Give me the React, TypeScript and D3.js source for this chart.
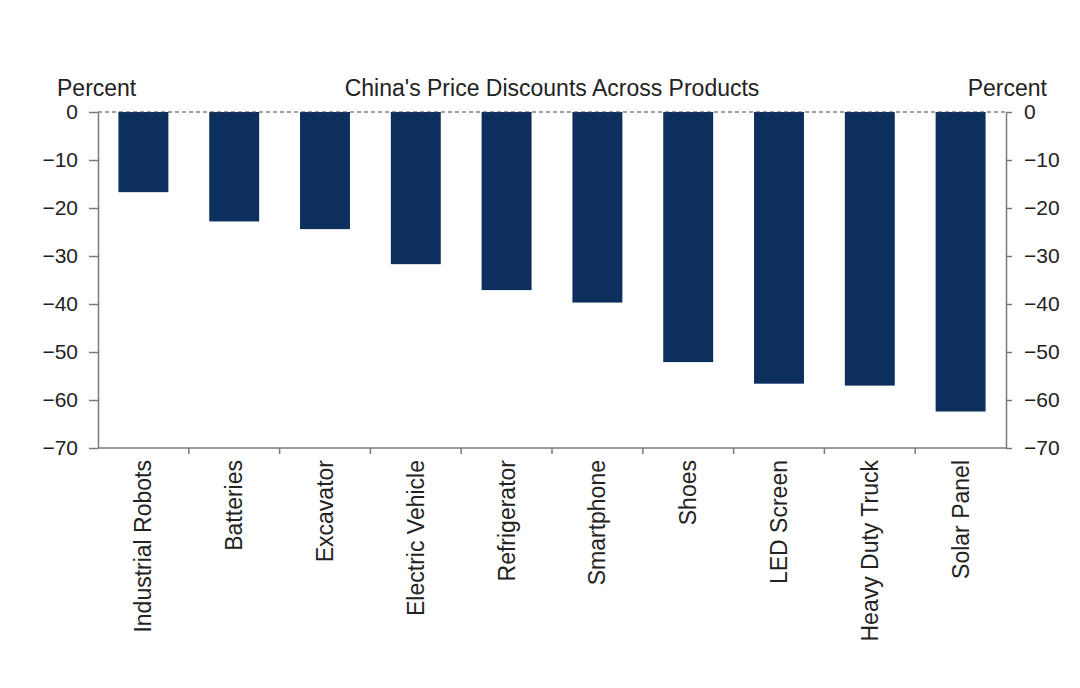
import React, { useEffect, useRef } from "react";
import * as d3 from "d3";

// Product categories and their price discount (percent)
const categories: string[] = [
  "Industrial Robots",
  "Batteries",
  "Excavator",
  "Electric Vehicle",
  "Refrigerator",
  "Smartphone",
  "Shoes",
  "LED Screen",
  "Heavy Duty Truck",
  "Solar Panel",
];
const discounts: number[] = [-16.7, -22.8, -24.4, -31.7, -37.1, -39.7, -52.1, -56.6, -57.0, -62.4];
const yTicks: number[] = [0, -10, -20, -30, -40, -50, -60, -70];

const title = "China's Price Discounts Across Products";
const unitLabel = "Percent";

const W = 1080;
const H = 688;
const left = 98;
const right = 1006;
const top = 112;
const bottom = 448;

const FONT = "'Liberation Sans', Arial, Helvetica, sans-serif";
const BAR = "#0c2f5d";
const AXIS = "#7a7a7a";
const TEXT = "#222";

export default function App() {
  const ref = useRef<SVGSVGElement | null>(null);

  useEffect(() => {
    const svg = d3.select(ref.current);
    svg.selectAll("*").remove();

    const x = d3
      .scaleBand<string>()
      .domain(categories)
      .range([left, right])
      .paddingInner(0.45)
      .paddingOuter(0.225);
    const y = d3.scaleLinear().domain([-70, 0]).range([bottom, top]);

    const fmt = (d: d3.NumberValue) => (Number(d) < 0 ? "\u2212" + Math.abs(Number(d)) : String(d));

    // bars
    svg
      .append("g")
      .selectAll("rect")
      .data(categories)
      .join("rect")
      .attr("x", (c) => x(c)!)
      .attr("width", x.bandwidth())
      .attr("y", y(0))
      .attr("height", (_, i) => y(discounts[i]) - y(0))
      .attr("fill", BAR);

    // dashed zero line
    svg
      .append("line")
      .attr("x1", left)
      .attr("x2", right)
      .attr("y1", y(0))
      .attr("y2", y(0))
      .attr("stroke", "#444")
      .attr("stroke-width", 1.2)
      .attr("stroke-dasharray", "4,3");

    const styleAxis = (g: d3.Selection<SVGGElement, unknown, null, undefined>) => {
      g.select(".domain").attr("stroke", AXIS).attr("stroke-width", 1.5);
      g.selectAll(".tick line").attr("stroke", AXIS).attr("stroke-width", 1.5);
      g.selectAll(".tick text")
        .attr("fill", TEXT)
        .style("font-family", FONT)
        .style("font-size", "21px");
    };

    // left axis
    const gl = svg
      .append("g")
      .attr("transform", `translate(${left},0)`)
      .call(
        d3.axisLeft(y).tickValues(yTicks).tickFormat(fmt).tickSize(9).tickSizeOuter(0).tickPadding(11)
      );
    styleAxis(gl as any);

    // right axis
    const gr = svg
      .append("g")
      .attr("transform", `translate(${right},0)`)
      .call(
        d3.axisRight(y).tickValues(yTicks).tickFormat(fmt).tickSize(6).tickSizeOuter(0).tickPadding(12)
      );
    styleAxis(gr as any);

    // bottom axis line with separator ticks between categories
    const gap = (x.step() - x.bandwidth()) / 2;
    const gb = svg.append("g");
    gb.append("line")
      .attr("x1", left)
      .attr("x2", right)
      .attr("y1", bottom)
      .attr("y2", bottom)
      .attr("stroke", AXIS)
      .attr("stroke-width", 1.5);
    gb.selectAll("line.sep")
      .data(categories.slice(1))
      .join("line")
      .attr("class", "sep")
      .attr("x1", (c) => x(c)! - gap)
      .attr("x2", (c) => x(c)! - gap)
      .attr("y1", bottom)
      .attr("y2", bottom + 6)
      .attr("stroke", AXIS)
      .attr("stroke-width", 1.5);

    // category labels, rotated
    svg
      .append("g")
      .selectAll("text")
      .data(categories)
      .join("text")
      .attr(
        "transform",
        (c) => `translate(${x(c)! + x.bandwidth() / 2},${bottom + 12}) rotate(-90)`
      )
      .attr("text-anchor", "end")
      .attr("dy", "0.35em")
      .attr("fill", TEXT)
      .style("font-family", FONT)
      .style("font-size", "23px")
      .text((c) => c);

    // titles
    const addText = (t: string, tx: number, anchor: string) =>
      svg
        .append("text")
        .attr("x", tx)
        .attr("y", 96)
        .attr("text-anchor", anchor)
        .attr("fill", TEXT)
        .style("font-family", FONT)
        .style("font-size", "23px")
        .text(t);
    addText(unitLabel, 57, "start");
    addText(unitLabel, 1047, "end");
    addText(title, (left + right) / 2, "middle");
  }, []);

  return (
    <svg
      ref={ref}
      width={W}
      height={H}
      style={{ position: "absolute", left: 0, top: 0, background: "#fff" }}
    />
  );
}
